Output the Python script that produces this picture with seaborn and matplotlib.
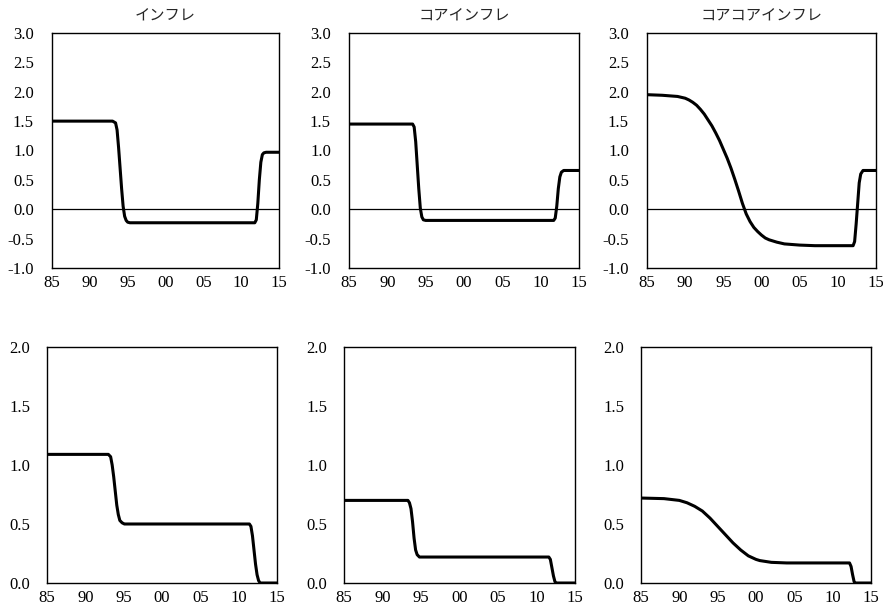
import numpy as np
import pandas as pd
import seaborn as sns
import matplotlib.pyplot as plt

# top row: inflation, core, core-core (ylim -1..3)
titles = ['インフレ', 'コアインフレ', 'コアコアインフレ']

infl_yr = [1985, 1993.0, 1993.4, 1993.6, 1993.8, 1994.0, 1994.2, 1994.4, 1994.6, 1994.8, 1995.0, 1995.3,
           2011.8, 2012.0, 2012.2, 2012.4, 2012.6, 2012.8, 2013.0, 2013.3, 2015]
infl_val = [1.50, 1.50, 1.47, 1.35, 1.05, 0.70, 0.35, 0.05, -0.12, -0.19, -0.22, -0.23,
            -0.23, -0.18, 0.10, 0.50, 0.80, 0.93, 0.96, 0.97, 0.97]

core_yr = [1985, 1993.3, 1993.5, 1993.7, 1993.9, 1994.1, 1994.3, 1994.5, 1994.7, 1995.0,
           2011.7, 2011.9, 2012.1, 2012.3, 2012.5, 2012.7, 2013.0, 2015]
core_val = [1.45, 1.45, 1.40, 1.15, 0.75, 0.35, 0.02, -0.13, -0.18, -0.19,
            -0.19, -0.15, 0.05, 0.35, 0.55, 0.63, 0.66, 0.66]

cc_yr = [1985, 1987, 1989, 1990, 1990.5, 1991, 1991.5, 1992, 1992.5, 1993, 1993.5, 1994, 1994.5,
         1995, 1995.5, 1996, 1996.5, 1997, 1997.5, 1998, 1998.5, 1999, 1999.5, 2000, 2000.5,
         2001, 2002, 2003, 2005, 2007, 2012.0, 2012.2, 2012.4, 2012.6, 2012.8,
         2013.0, 2013.3, 2015]
cc_val = [1.95, 1.94, 1.92, 1.89, 1.86, 1.82, 1.77, 1.70, 1.62, 1.52, 1.42, 1.30, 1.17,
          1.02, 0.87, 0.70, 0.51, 0.31, 0.10, -0.08, -0.21, -0.31, -0.38, -0.44, -0.49,
          -0.52, -0.56, -0.59, -0.61, -0.62, -0.62, -0.55, -0.25, 0.10, 0.45,
          0.60, 0.66, 0.66]

# bottom row (ylim 0..2)
infl2_yr = [1985, 1993.0, 1993.3, 1993.5, 1993.7, 1993.9, 1994.1, 1994.3, 1994.5, 1994.8, 1995.1,
            2011.4, 2011.6, 2011.8, 2012.0, 2012.2, 2012.4, 2012.6, 2012.8, 2015]
infl2_val = [1.09, 1.09, 1.07, 1.00, 0.90, 0.78, 0.66, 0.58, 0.53, 0.51, 0.50,
             0.50, 0.48, 0.40, 0.28, 0.16, 0.07, 0.02, 0.00, 0.00]

core2_yr = [1985, 1993.3, 1993.5, 1993.7, 1993.9, 1994.1, 1994.3, 1994.5, 1994.8,
            2011.6, 2011.8, 2012.0, 2012.2, 2012.4, 2012.6, 2015]
core2_val = [0.70, 0.70, 0.68, 0.63, 0.52, 0.38, 0.28, 0.24, 0.22,
             0.22, 0.20, 0.13, 0.06, 0.01, 0.00, 0.00]

cc2_yr = [1985, 1988, 1990, 1990.5, 1991, 1991.5, 1992, 1992.5, 1993, 1993.5, 1994, 1994.5,
          1995, 1995.5, 1996, 1996.5, 1997, 1997.5, 1998, 1998.5, 1999, 1999.5, 2000, 2000.5,
          2001, 2002, 2004, 2012.2, 2012.4, 2012.6, 2012.8, 2013.0, 2015]
cc2_val = [0.72, 0.715, 0.70, 0.69, 0.68, 0.665, 0.65, 0.63, 0.61, 0.58, 0.55, 0.515,
           0.48, 0.445, 0.41, 0.375, 0.34, 0.31, 0.28, 0.255, 0.23, 0.215, 0.20, 0.19,
           0.185, 0.175, 0.17, 0.17, 0.14, 0.07, 0.01, 0.00, 0.00]

xticks = [1985, 1990, 1995, 2000, 2005, 2010, 2015]
xticklabels = ['85', '90', '95', '00', '05', '10', '15']

sns.set_style('white')
plt.rcParams['font.family'] = ['Liberation Serif', 'DejaVu Serif']

fig = plt.figure(figsize=(8.83, 6.09), dpi=100)
W, H = 883, 609
top_boxes = [(52, 279), (349, 579), (647, 876)]
bot_boxes = [(47, 277), (344, 575), (641, 871)]

top_data = [(infl_yr, infl_val), (core_yr, core_val), (cc_yr, cc_val)]
bot_data = [(infl2_yr, infl2_val), (core2_yr, core2_val), (cc2_yr, cc2_val)]


def style(ax, ylim, yticks, ypad):
    ax.set_xlim(1985, 2015)
    ax.set_ylim(*ylim)
    ax.set_xticks(xticks)
    ax.set_xticklabels(xticklabels)
    ax.set_yticks(yticks)
    ax.set_yticklabels(['%.1f' % t for t in yticks])
    ax.tick_params(axis='both', length=0, labelsize=12, colors='black')
    ax.tick_params(axis='y', pad=ypad)
    ax.tick_params(axis='x', pad=5)
    ax.set_xlabel('')
    ax.set_ylabel('')
    for s in ax.spines.values():
        s.set_color('black')
        s.set_linewidth(1.0)


for i, ((l, r), (yr, val)) in enumerate(zip(top_boxes, top_data)):
    ax = fig.add_axes([l / W, (H - 268) / H, (r - l) / W, 235 / H])
    ax.axhline(0, color='black', lw=0.9)
    sns.lineplot(x=yr, y=val, ax=ax, color='black', lw=2.2, estimator=None)
    style(ax, (-1, 3), [-1.0, -0.5, 0.0, 0.5, 1.0, 1.5, 2.0, 2.5, 3.0], 13)
    ax.set_title(titles[i], family=['Noto Sans CJK JP', 'DejaVu Sans'], fontsize=11, pad=9)

for (l, r), (yr, val) in zip(bot_boxes, bot_data):
    ax = fig.add_axes([l / W, (H - 583) / H, (r - l) / W, 236 / H])
    sns.lineplot(x=yr, y=val, ax=ax, color='black', lw=2.2, estimator=None)
    style(ax, (0, 2), [0.0, 0.5, 1.0, 1.5, 2.0], 12)

fig.savefig('out.png', dpi=100)
